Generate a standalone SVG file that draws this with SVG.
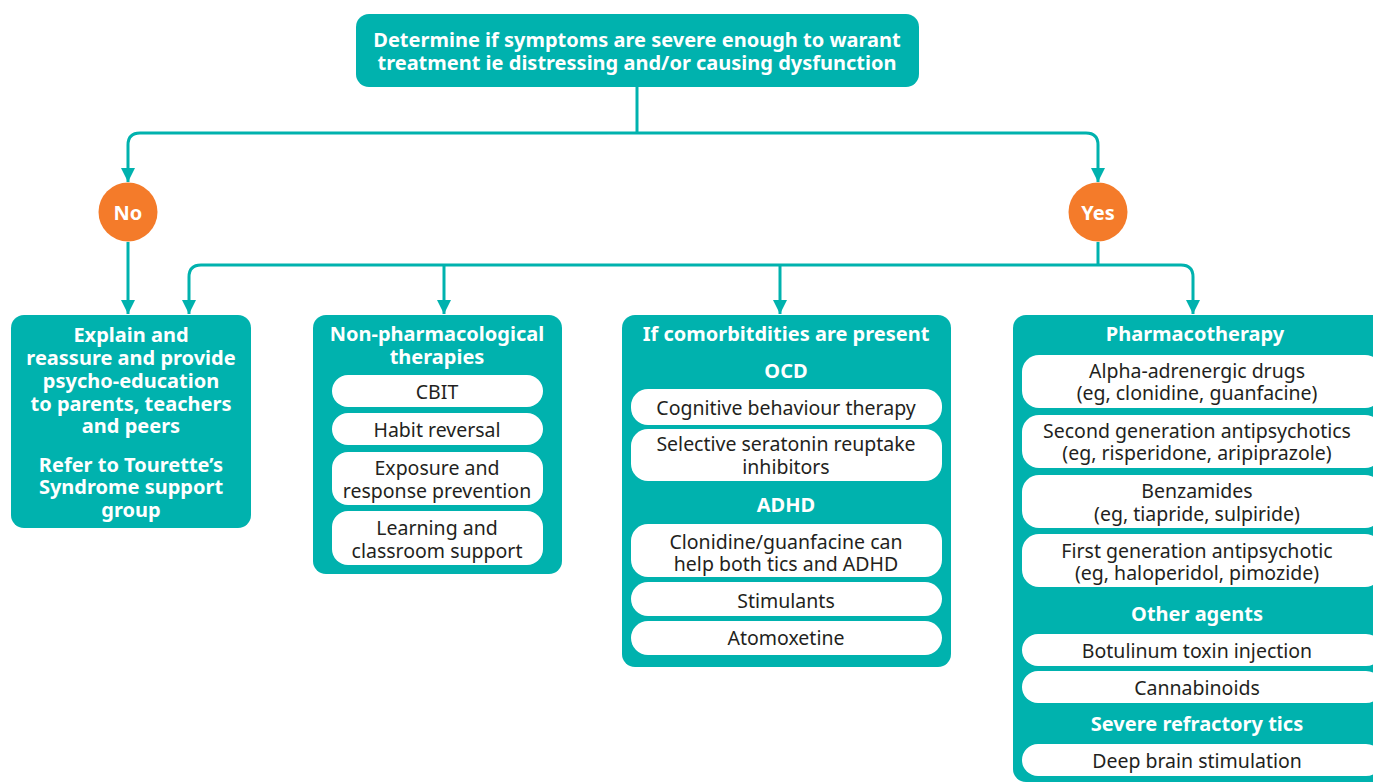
<svg xmlns="http://www.w3.org/2000/svg" width="1373" height="783" viewBox="0 0 1373 783">
<defs>
<marker id="ah" markerUnits="userSpaceOnUse" markerWidth="16" markerHeight="14" refX="14" refY="7" orient="auto">
<path d="M0,0 L14,7 L0,14 Z" fill="#00B2AE"/>
</marker>
<style>
.box{fill:#00B2AE}
.pill{fill:#FFFFFF}
.circ{fill:#F47B2A}
.h{font-family:"Noto Sans","Open Sans",sans-serif;font-weight:bold;font-size:20px;fill:#FFFFFF;text-anchor:middle;dominant-baseline:central}
.t{font-family:"Noto Sans","Open Sans",sans-serif;font-size:19.5px;fill:#231F20;text-anchor:middle;dominant-baseline:central}
.c{fill:none;stroke:#00B2AE;stroke-width:3}
</style>
</defs>
<rect width="1373" height="783" fill="#FFFFFF"/>
<g id="connectors">
<path class="c" d="M637,87 V133"/>
<path class="c" d="M637,133 H140 Q128,133 128,145 V182" marker-end="url(#ah)"/>
<path class="c" d="M637,133 H1086 Q1098,133 1098,145 V182" marker-end="url(#ah)"/>
<path class="c" d="M128,242 V314" marker-end="url(#ah)"/>
<path class="c" d="M1098,242 V265"/>
<path class="c" d="M1098,265 H201 Q189,265 189,277 V314" marker-end="url(#ah)"/>
<path class="c" d="M1098,265 H1181 Q1193,265 1193,277 V314" marker-end="url(#ah)"/>
<path class="c" d="M444,265 V314" marker-end="url(#ah)"/>
<path class="c" d="M780,265 V314" marker-end="url(#ah)"/>
</g>
<g id="top">
<rect class="box" x="356" y="14" width="563" height="73" rx="13"/>
<text class="h" x="637" y="39">Determine if symptoms are severe enough to warant</text>
<text class="h" x="637" y="62">treatment ie distressing and/or causing dysfunction</text>
</g>
<g id="no">
<circle class="circ" cx="128" cy="212" r="29.5"/>
<text class="h" x="128" y="212">No</text>
</g>
<g id="yes">
<circle class="circ" cx="1098" cy="212" r="29.5"/>
<text class="h" x="1098" y="212">Yes</text>
</g>
<g id="explain">
<rect class="box" x="11" y="315" width="240" height="213" rx="13"/>
<text class="h" x="131" y="334">Explain and</text>
<text class="h" x="131" y="357">reassure and provide</text>
<text class="h" x="131" y="380">psycho-education</text>
<text class="h" x="131" y="403">to parents, teachers</text>
<text class="h" x="131" y="425">and peers</text>
<text class="h" x="131" y="464">Refer to Tourette’s</text>
<text class="h" x="131" y="486">Syndrome support</text>
<text class="h" x="131" y="509">group</text>
</g>
<g id="nonpharm">
<rect class="box" x="313" y="315" width="249" height="259" rx="13"/>
<text class="h" x="437" y="333">Non-pharmacological</text>
<text class="h" x="437" y="356">therapies</text>
<rect class="pill" x="332" y="375" width="211" height="32" rx="16"/>
<text class="t" x="437" y="391">CBIT</text>
<rect class="pill" x="332" y="413" width="211" height="32" rx="16"/>
<text class="t" x="437" y="429">Habit reversal</text>
<rect class="pill" x="332" y="452" width="211" height="53" rx="16"/>
<text class="t" x="437" y="467">Exposure and</text>
<text class="t" x="437" y="490">response prevention</text>
<rect class="pill" x="332" y="511" width="211" height="54" rx="16"/>
<text class="t" x="437" y="527">Learning and</text>
<text class="t" x="437" y="550">classroom support</text>
</g>
<g id="comorbid">
<rect class="box" x="622" y="315" width="329" height="352" rx="13"/>
<text class="h" x="786" y="333">If comorbitdities are present</text>
<text class="h" x="786" y="370">OCD</text>
<rect class="pill" x="631" y="389" width="311" height="36" rx="17"/>
<text class="t" x="786" y="407">Cognitive behaviour therapy</text>
<rect class="pill" x="631" y="429" width="311" height="52" rx="17"/>
<text class="t" x="786" y="443">Selective seratonin reuptake</text>
<text class="t" x="786" y="466">inhibitors</text>
<text class="h" x="786" y="504">ADHD</text>
<rect class="pill" x="631" y="524" width="311" height="53" rx="17"/>
<text class="t" x="786" y="541">Clonidine/guanfacine can</text>
<text class="t" x="786" y="563">help both tics and ADHD</text>
<rect class="pill" x="631" y="582" width="311" height="34" rx="17"/>
<text class="t" x="786" y="600">Stimulants</text>
<rect class="pill" x="631" y="621" width="311" height="34" rx="17"/>
<text class="t" x="786" y="637">Atomoxetine</text>
</g>
<g id="pharma">
<rect class="box" x="1013" y="315" width="380" height="467" rx="13"/>
<text class="h" x="1195" y="333">Pharmacotherapy</text>
<rect class="pill" x="1022" y="355" width="360" height="53" rx="17"/>
<text class="t" x="1197" y="370">Alpha-adrenergic drugs</text>
<text class="t" x="1197" y="392">(eg, clonidine, guanfacine)</text>
<rect class="pill" x="1022" y="415" width="360" height="53" rx="17"/>
<text class="t" x="1197" y="430">Second generation antipsychotics</text>
<text class="t" x="1197" y="452">(eg, risperidone, aripiprazole)</text>
<rect class="pill" x="1022" y="475" width="360" height="53" rx="17"/>
<text class="t" x="1197" y="490">Benzamides</text>
<text class="t" x="1197" y="513">(eg, tiapride, sulpiride)</text>
<rect class="pill" x="1022" y="534" width="360" height="53" rx="17"/>
<text class="t" x="1197" y="550">First generation antipsychotic</text>
<text class="t" x="1197" y="572">(eg, haloperidol, pimozide)</text>
<text class="h" x="1197" y="613">Other agents</text>
<rect class="pill" x="1022" y="634" width="360" height="32" rx="16"/>
<text class="t" x="1197" y="650">Botulinum toxin injection</text>
<rect class="pill" x="1022" y="671" width="360" height="32" rx="16"/>
<text class="t" x="1197" y="687">Cannabinoids</text>
<text class="h" x="1197" y="723">Severe refractory tics</text>
<rect class="pill" x="1022" y="744" width="360" height="32" rx="16"/>
<text class="t" x="1197" y="760">Deep brain stimulation</text>
</g>
</svg>
